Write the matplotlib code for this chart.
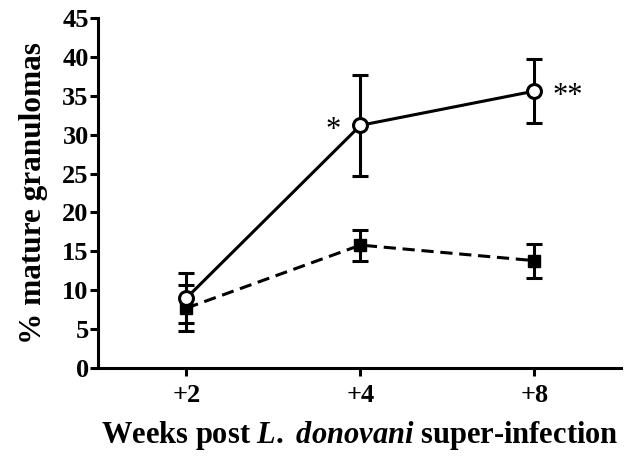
import matplotlib
matplotlib.use("Agg")
import matplotlib.pyplot as plt

plt.rcParams['font.family'] = ['Liberation Serif', 'DejaVu Serif']
plt.rcParams['mathtext.fontset'] = 'custom'
plt.rcParams['mathtext.rm'] = 'Liberation Serif:bold'
plt.rcParams['mathtext.it'] = 'Liberation Serif:italic:bold'
plt.rcParams['mathtext.bf'] = 'Liberation Serif:bold'

# Data
weeks = ['+2', '+4', '+8']
solid_mean = [9.0, 31.2, 35.6]
solid_err = [3.2, 6.5, 4.1]
dashed_mean = [7.7, 15.8, 13.8]
dashed_err = [3.0, 2.0, 2.2]

x = list(range(len(weeks)))

fig = plt.figure(figsize=(6.28, 4.59), dpi=100)
ax = fig.add_axes([0.1556, 0.1983, 0.834, 0.7625])

ax.errorbar(x, dashed_mean, yerr=dashed_err, color='black', linestyle='--',
            dashes=(4, 2.2), linewidth=2.2, marker='s', markersize=8,
            markerfacecolor='black', capsize=6, capthick=2.2, elinewidth=2.2)
ax.errorbar(x, solid_mean, yerr=solid_err, color='black', linestyle='-',
            linewidth=2.2, marker='o', markersize=10, markerfacecolor='white',
            markeredgewidth=2.2, capsize=6, capthick=2.2, elinewidth=2.2)

# significance marks
ax.annotate('*', (x[1], solid_mean[1]), xytext=(-20, -4), textcoords='offset points',
            ha='center', va='center', fontsize=22)
ax.annotate('**', (x[2], solid_mean[2]), xytext=(24, -4), textcoords='offset points',
            ha='center', va='center', fontsize=22)

ax.set_xlim(-0.51, 2.5)
ax.set_ylim(0, 45)
ax.set_yticks(range(0, 46, 5))
ax.set_xticks(x)
ax.set_xticklabels(weeks)

for s in ['top', 'right']:
    ax.spines[s].set_visible(False)
for s in ['left', 'bottom']:
    ax.spines[s].set_linewidth(2.2)
ax.tick_params(width=2.2, length=5.5, labelsize=19)
for lab in ax.get_xticklabels() + ax.get_yticklabels():
    lab.set_fontweight('bold')
ax.tick_params(axis='x', pad=6)
ax.tick_params(axis='y', pad=1)

ax.set_ylabel('% mature granulomas', fontsize=22.5, fontweight='bold', labelpad=10)
ax.set_xlabel(r'Weeks post $\mathit{L.\ donovani}$ super-infection', fontsize=22,
              fontweight='bold', labelpad=9)

fig.savefig('out.png', dpi=100)
